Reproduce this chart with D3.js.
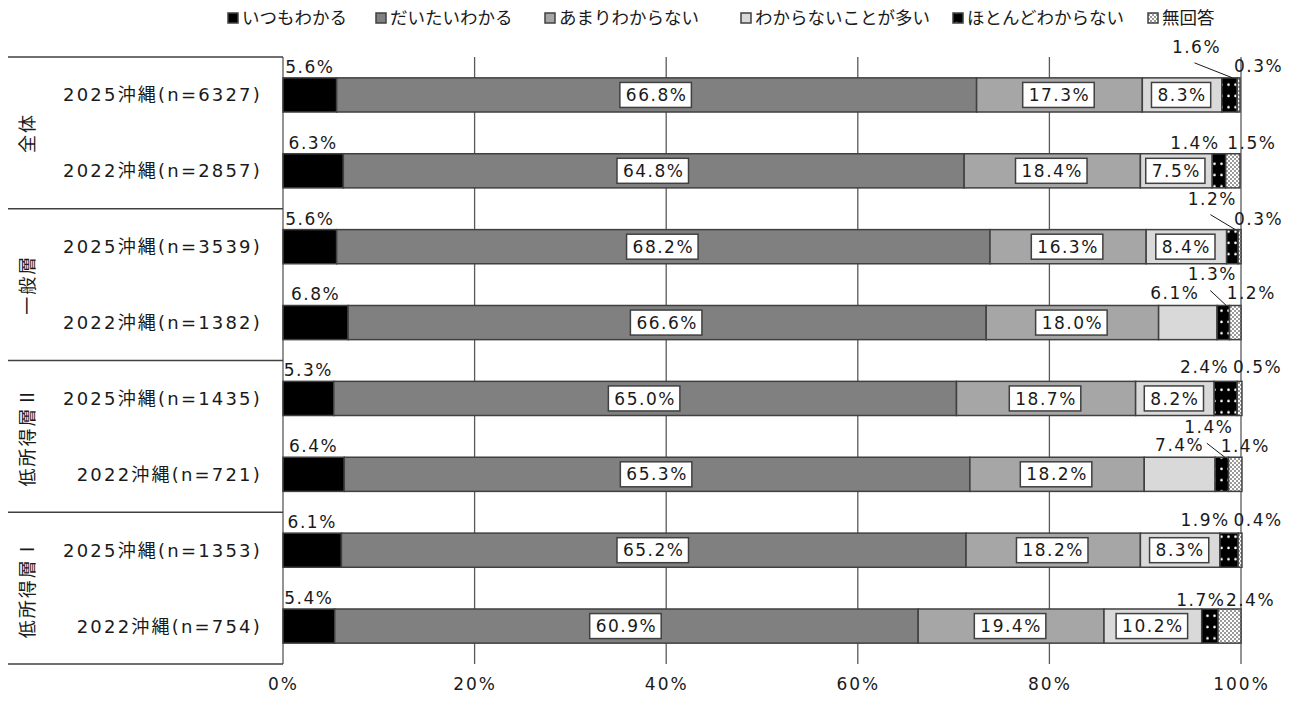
<!DOCTYPE html>
<html><head><meta charset="utf-8">
<script src="https://cdn.jsdelivr.net/npm/d3@7"></script>
<style>
html,body{margin:0;padding:0;background:#fff;}
svg text{font-family:"DejaVu Sans","Noto Sans CJK JP",sans-serif;fill:#1a1a1a;}
svg text.grp{font-family:"Noto Sans CJK JP",sans-serif;}
</style></head>
<body><svg id="chart" width="1293" height="701"></svg>
<script>
// ---- data ----
const categories = ["2025沖縄(n=6327)","2022沖縄(n=2857)","2025沖縄(n=3539)","2022沖縄(n=1382)","2025沖縄(n=1435)","2022沖縄(n=721)","2025沖縄(n=1353)","2022沖縄(n=754)"];
const groups = ["全体","一般層","低所得層Ⅱ","低所得層Ⅰ"];
const seriesNames = ["いつもわかる","だいたいわかる","あまりわからない","わからないことが多い","ほとんどわからない","無回答"];
const itsumo   = [5.6, 6.3, 5.6, 6.8, 5.3, 6.4, 6.1, 5.4];
const daitai   = [66.8,64.8,68.2,66.6,65.0,65.3,65.2,60.9];
const amari    = [17.3,18.4,16.3,18.0,18.7,18.2,18.2,19.4];
const wakaranaiOoi = [8.3,7.5,8.4,6.1,8.2,7.4,8.3,10.2];
const hotondo  = [1.6,1.4,1.2,1.3,2.4,1.4,1.9,1.7];
const mukaitou = [0.3,1.5,0.3,1.2,0.5,1.4,0.4,2.4];
const xTicks = [0,20,40,60,80,100];

// ---- layout (label placement offsets, not data) ----
// per row: [dx, dy, leader] for segment 5 and 6 labels, relative to segment centre / bar top
const smallOffsets = [
  [[-33,-31,true],[20,-12]],
  [[-24,-11,false],[19,-11]],
  [[-20,-31,true],[19,-11]],
  [[-11,-31,true],[16,-12]],
  [[-21,-14,false],[18,-14]],
  [[-13,-30,true],[10,-11]],
  [[-24,-13,false],[18,-13]],
  [[-9,-9,false],[21,-9]]
];
const seg4OutsideDx = [0,0,0,-13,0,0,0,0];
const legendX = [228,376,545,741,953,1148];

const series = [itsumo,daitai,amari,wakaranaiOoi,hotondo,mukaitou];
const colors = ["#000000","#808080","#a6a6a6","#d9d9d9","url(#dots)","url(#check)"];

const svg = d3.select("#chart");
const defs = svg.append("defs");
const pd = defs.append("pattern").attr("id","dots").attr("patternUnits","userSpaceOnUse").attr("width",7).attr("height",11.3);
pd.append("rect").attr("width",7).attr("height",11.3).attr("fill","#000");
pd.append("circle").attr("cx",3.5).attr("cy",5.6).attr("r",1.3).attr("fill","#fff");
const pc = defs.append("pattern").attr("id","check").attr("patternUnits","userSpaceOnUse").attr("width",4).attr("height",4);
pc.append("rect").attr("width",4).attr("height",4).attr("fill","#fff");
pc.append("rect").attr("width",2).attr("height",2).attr("fill","#9a9a9a");
pc.append("rect").attr("x",2).attr("y",2).attr("width",2).attr("height",2).attr("fill","#9a9a9a");

const x = d3.scaleLinear().domain([0,100]).range([283,1241]);
const y = d3.scaleBand().domain(categories).range([57,664]).paddingInner(0.55).paddingOuter(0.275);
const yGroup = d3.scaleBand().domain(groups).range([57,664]);

// gridlines
svg.append("g").selectAll("line").data(xTicks).join("line")
  .attr("x1",d=>x(d)).attr("x2",d=>x(d)).attr("y1",57).attr("y2",664)
  .attr("stroke","#5a5a5a").attr("stroke-width",1.3);

// axis tick labels
const xAxis = d3.axisBottom(x).tickValues(xTicks).tickFormat(d=>d+"%").tickSize(0).tickPadding(0);
const ax = svg.append("g").attr("transform","translate(0,678)").call(xAxis);
ax.select(".domain").remove();
ax.selectAll("text").attr("font-size",17).attr("letter-spacing","2px").attr("dy","0.71em").style("font-family",'"DejaVu Sans","Noto Sans CJK JP",sans-serif').attr("fill","#1a1a1a");

// left group lines
const bounds = [57].concat(groups.map(g=>yGroup(g)+yGroup.bandwidth()));
svg.append("g").selectAll("line").data(bounds).join("line")
  .attr("x1",8).attr("x2",283).attr("y1",d=>d).attr("y2",d=>d)
  .attr("stroke","#404040").attr("stroke-width",1.5);

// group labels
svg.append("g").selectAll("text").data(groups).join("text").attr("class","grp")
  .attr("transform",d=>`translate(28,${yGroup(d)+yGroup.bandwidth()/2}) rotate(-90)`)
  .attr("text-anchor","middle").attr("dy","0.35em").attr("font-size",18).attr("letter-spacing","2px")
  .text(d=>d);

// category labels
svg.append("g").selectAll("text").data(categories).join("text")
  .attr("x",262).attr("y",d=>y(d)+y.bandwidth()/2).attr("dy","0.36em")
  .attr("text-anchor","end").attr("font-size",18).attr("letter-spacing","2.2px")
  .text(d=>d);

// stacked bars
const rows = categories.map((c,i)=>{
  let cum=0;
  return series.map((s,k)=>{const seg={row:i,k,cat:c,v:s[i],x0:cum,x1:cum+s[i]};cum+=s[i];return seg;});
});
const segs = rows.flat();
svg.append("g").selectAll("rect").data(segs).join("rect")
  .attr("x",d=>x(d.x0)).attr("width",d=>x(d.x1)-x(d.x0))
  .attr("y",d=>y(d.cat)).attr("height",y.bandwidth())
  .attr("fill",d=>colors[d.k]).attr("stroke","#404040").attr("stroke-width",1.5);

// labels
const lab = svg.append("g");
function fmt(v){return v.toFixed(1)+"%";}
segs.forEach(d=>{
  const cx = (x(d.x0)+x(d.x1))/2;
  const top = y(d.cat);
  const cy = top + y.bandwidth()/2;
  if(d.k===0){
    lab.append("text").attr("x",cx).attr("y",top-11).attr("dy","0.35em").attr("text-anchor","middle")
      .attr("font-size",17).attr("letter-spacing","1.5px").text(fmt(d.v));
  } else if(d.k===1 || d.k===2 || (d.k===3 && d.v>=7.5)){
    const t = lab.append("text").attr("x",cx).attr("y",cy).attr("dy","0.36em").attr("text-anchor","middle")
      .attr("font-size",17).attr("letter-spacing","1.5px").text(fmt(d.v));
    const w = t.node().getComputedTextLength();
    lab.insert("rect","text:last-child").attr("x",cx-w/2-6).attr("y",cy-12.5).attr("width",w+10).attr("height",25)
      .attr("fill","#fff").attr("stroke","#404040").attr("stroke-width",1.5);
    t.raise();
  } else if(d.k===3){
    lab.append("text").attr("x",cx+seg4OutsideDx[d.row]).attr("y",top-12).attr("dy","0.35em").attr("text-anchor","middle")
      .attr("font-size",17).attr("letter-spacing","1.5px").text(fmt(d.v));
  } else {
    const o = smallOffsets[d.row][d.k-4];
    const lx = cx+o[0], ly = top+o[1];
    lab.append("text").attr("x",lx).attr("y",ly).attr("dy","0.35em").attr("text-anchor","middle")
      .attr("font-size",17).attr("letter-spacing","1.5px").text(fmt(d.v));
    if(o[2]){
      lab.append("line").attr("x1",lx-2).attr("y1",ly+16).attr("x2",cx+3).attr("y2",top)
        .attr("stroke","#1a1a1a").attr("stroke-width",1);
    }
  }
});

// legend
const lg = svg.append("g").selectAll("g").data(seriesNames).join("g")
  .attr("transform",(d,i)=>`translate(${legendX[i]},18)`);
lg.append("rect").attr("x",0).attr("y",-5).attr("width",10).attr("height",10)
  .attr("fill",(d,i)=>colors[i]).attr("stroke","#404040").attr("stroke-width",1.5);
lg.append("text").attr("x",14).attr("y",0).attr("dy","0.36em").attr("font-size",17.5).text(d=>d);
</script></body></html>
